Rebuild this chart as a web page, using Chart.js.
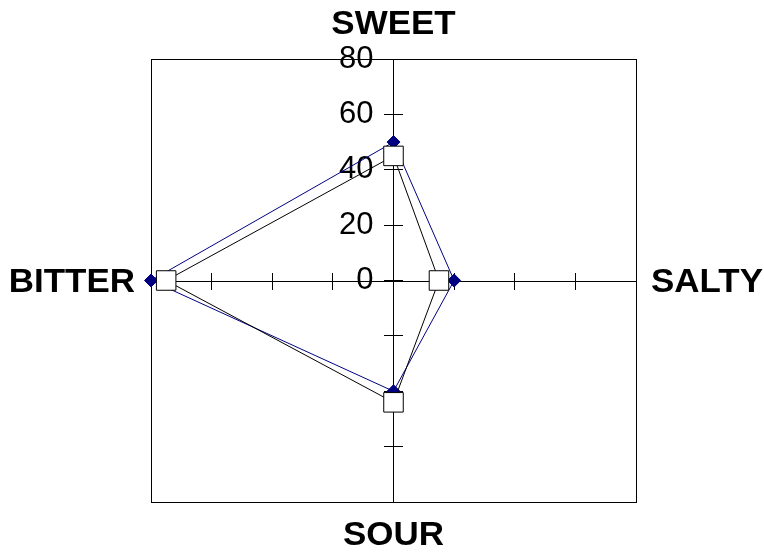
<!DOCTYPE html>
<html>
<head>
<meta charset="utf-8">
<script src="https://cdn.jsdelivr.net/npm/chart.js@4/dist/chart.umd.min.js"></script>
<style>
  html, body { margin: 0; padding: 0; background: #ffffff; }
  canvas { display: block; }
</style>
</head>
<body>
<canvas id="c" width="764" height="553"></canvas>
<script>
// ---- data ----
const categories = ['SWEET', 'SALTY', 'SOUR', 'BITTER'];   // clockwise from top
const seriesDiamond = [50, 20, 40, 80];                    // navy diamonds
const seriesSquare  = [45, 15, 44, 75];                    // white squares
const axisMin = -80;
const axisMax = 80;
const axisStep = 20;
const valueTickLabels = [0, 20, 40, 60, 80];

// map each category value onto its spoke (top, right, bottom, left)
function toSpokePoints(values) {
  const pts = values.map((v, i) => {
    const a = Math.PI / 2 - i * Math.PI / 2;
    return { x: Math.round(v * Math.cos(a) * 1e6) / 1e6, y: Math.round(v * Math.sin(a) * 1e6) / 1e6 };
  });
  pts.push(pts[0]); // close the polygon
  return pts;
}
function radiiFor(values, r) {
  return values.map(() => r).concat([0]);
}

const FONT = "'Liberation Sans', Arial, sans-serif";

function stretchedText(ctx, text, x, y, align, sx) {
  ctx.save();
  ctx.translate(x, y);
  ctx.scale(sx, 1);
  ctx.textAlign = align;
  ctx.fillText(text, 0, 0);
  ctx.restore();
}

const frameAndLabels = {
  id: 'frameAndLabels',
  beforeDatasetsDraw(chart) {
    const { ctx, chartArea: a } = chart;
    ctx.save();
    ctx.strokeStyle = '#000000';
    ctx.lineWidth = 1;
    ctx.strokeRect(Math.round(a.left) + 0.5, Math.round(a.top) + 0.5,
                   Math.round(a.right - a.left), Math.round(a.bottom - a.top));
    ctx.restore();
  },
  afterDraw(chart) {
    const { ctx, chartArea: a, scales } = chart;
    const cx = scales.x.getPixelForValue(0);
    const cy = scales.y.getPixelForValue(0);
    ctx.save();
    ctx.fillStyle = '#000000';
    ctx.font = 'bold 33px ' + FONT;
    ctx.textBaseline = 'middle';
    const sx = 1.06;
    stretchedText(ctx, categories[0], cx, a.top - 34, 'center', sx);
    stretchedText(ctx, categories[2], cx, a.bottom + 34, 'center', sx);
    stretchedText(ctx, categories[1], a.right + 15, cy + 2, 'left', sx);
    stretchedText(ctx, categories[3], a.left - 16, cy + 2, 'right', sx);
    ctx.restore();
  }
};

new Chart(document.getElementById('c'), {
  type: 'scatter',
  data: {
    datasets: [
      {
        label: 'Series 1',
        data: toSpokePoints(seriesDiamond),
        showLine: true,
        tension: 0,
        clip: false,
        borderColor: '#000080',
        borderWidth: 1,
        pointStyle: 'rectRot',
        pointRadius: radiiFor(seriesDiamond, 6.5),
        pointBackgroundColor: '#000080',
        pointBorderColor: '#000080',
        pointBorderWidth: 1,
        order: 2
      },
      {
        label: 'Series 2',
        data: toSpokePoints(seriesSquare),
        showLine: true,
        tension: 0,
        clip: false,
        borderColor: '#000000',
        borderWidth: 1,
        pointStyle: 'rect',
        pointRadius: radiiFor(seriesSquare, 13.8),
        pointBackgroundColor: '#ffffff',
        pointBorderColor: '#000000',
        pointBorderWidth: 1,
        order: 1
      }
    ]
  },
  options: {
    responsive: false,
    animation: false,
    devicePixelRatio: 1,
    layout: { padding: { left: 151, right: 128, top: 59, bottom: 51 } },
    plugins: { legend: { display: false }, tooltip: { enabled: false } },
    scales: {
      x: {
        type: 'linear', position: 'center', min: axisMin, max: axisMax,
        ticks: { stepSize: axisStep, display: false, autoSkip: false },
        grid: { drawOnChartArea: false, drawTicks: true, tickLength: 8, color: '#000000', tickWidth: 1 },
        border: { color: '#000000', width: 1 }
      },
      x2: {
        type: 'linear', position: 'center', min: axisMin, max: axisMax,
        ticks: { stepSize: axisStep, display: false, autoSkip: false },
        grid: { drawOnChartArea: false, drawTicks: true, tickLength: -8, color: '#000000', tickWidth: 1 },
        border: { display: false }
      },
      y: {
        type: 'linear', position: 'center', min: axisMin, max: axisMax,
        ticks: {
          stepSize: axisStep, autoSkip: false, color: '#000000', padding: 11,
          font: { family: FONT, size: 31 },
          callback: (v) => valueTickLabels.includes(v) ? String(v) : ''
        },
        grid: { drawOnChartArea: false, drawTicks: true, tickLength: 9, color: '#000000', tickWidth: 1 },
        border: { color: '#000000', width: 1 }
      },
      y2: {
        type: 'linear', position: 'center', min: axisMin, max: axisMax,
        ticks: { stepSize: axisStep, display: false, autoSkip: false },
        grid: { drawOnChartArea: false, drawTicks: true, tickLength: -9, color: '#000000', tickWidth: 1 },
        border: { display: false }
      }
    }
  },
  plugins: [frameAndLabels]
});
</script>
</body>
</html>
